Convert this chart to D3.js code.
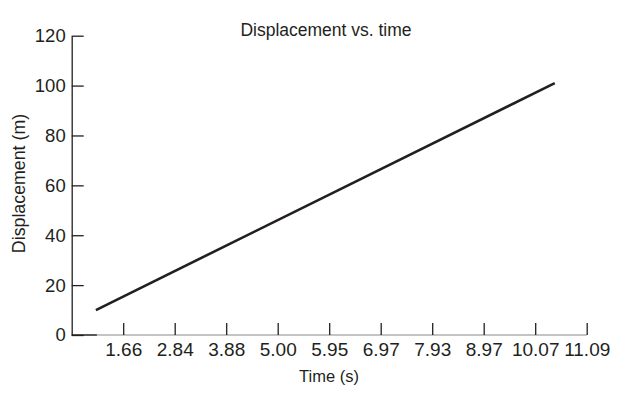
<!DOCTYPE html>
<html>
<head>
<meta charset="utf-8">
<script src="https://cdn.jsdelivr.net/npm/d3@7"></script>
<style>
  html, body { margin: 0; padding: 0; background: #fff; }
</style>
</head>
<body>
<svg id="chart" width="643" height="399"></svg>
<script>
// ---- data ----
const timeTickLabels = ["1.66", "2.84", "3.88", "5.00", "5.95", "6.97", "7.93", "8.97", "10.07", "11.09"];
const timeTickIndex = [1, 2, 3, 4, 5, 6, 7, 8, 9, 10];
const lineTimeIndex = [0.47, 9.38];
const lineDisplacement = [10, 101];
const yTicks = [0, 20, 40, 60, 80, 100, 120];

// ---- layout ----
const FONT = "Liberation Sans, Arial, sans-serif";
const INK = "#231f20";
const svg = d3.select("#chart");
const x0 = 71.7, x1 = 586.7, yTop = 35.7, yBot = 335;

const x = d3.scaleLinear().domain([0, 10]).range([x0, x1]);
const y = d3.scaleLinear().domain([0, 120]).range([yBot, yTop]);

// x-axis base line: black stub, then gray
svg.append("line")
  .attr("x1", x(lineTimeIndex[0]) + 1).attr("x2", x1)
  .attr("y1", yBot).attr("y2", yBot)
  .attr("stroke", "#b0b0b0").attr("stroke-width", 1.5);
svg.append("line")
  .attr("x1", x0).attr("x2", x(lineTimeIndex[0]) + 1)
  .attr("y1", yBot).attr("y2", yBot)
  .attr("stroke", INK).attr("stroke-width", 1.5);

const xAxis = d3.axisBottom(x)
  .tickValues(timeTickIndex)
  .tickFormat((d, i) => timeTickLabels[i])
  .tickSizeInner(-12)
  .tickSizeOuter(0)
  .tickPadding(8);
const gx = svg.append("g").attr("transform", `translate(0,${yBot})`).call(xAxis);
gx.select(".domain").remove();
gx.selectAll(".tick line").attr("stroke", INK).attr("stroke-width", 1.3);
gx.selectAll(".tick text")
  .attr("font-size", 19).attr("font-family", FONT)
  .attr("fill", INK);

// y-axis with inward ticks
const yAxis = d3.axisLeft(y)
  .tickValues(yTicks)
  .tickSizeInner(-12)
  .tickSizeOuter(0)
  .tickPadding(6);
const gy = svg.append("g").attr("transform", `translate(${x0},0)`).call(yAxis);
gy.select(".domain").attr("stroke", INK).attr("stroke-width", 1.3);
gy.selectAll(".tick line").attr("stroke", INK).attr("stroke-width", 1.3);
gy.selectAll(".tick text")
  .attr("font-size", 18.5).attr("font-family", FONT)
  .attr("fill", INK);

// line
const pts = lineTimeIndex.map((t, i) => [t, lineDisplacement[i]]);
svg.append("path")
  .datum(pts)
  .attr("fill", "none")
  .attr("stroke", INK)
  .attr("stroke-width", 2.6)
  .attr("d", d3.line().x(d => x(d[0])).y(d => y(d[1])));

// titles
svg.append("text")
  .attr("x", 326).attr("y", 36)
  .attr("text-anchor", "middle")
  .attr("font-family", FONT).attr("fill", INK)
  .attr("font-size", 17.5)
  .text("Displacement vs. time");

svg.append("text")
  .attr("x", 329).attr("y", 382)
  .attr("text-anchor", "middle")
  .attr("font-family", FONT).attr("fill", INK)
  .attr("font-size", 16.5)
  .text("Time (s)");

svg.append("text")
  .attr("transform", "translate(25,183.5) rotate(-90)")
  .attr("text-anchor", "middle")
  .attr("font-family", FONT).attr("fill", INK)
  .attr("font-size", 17.8)
  .text("Displacement (m)");
</script>
</body>
</html>
